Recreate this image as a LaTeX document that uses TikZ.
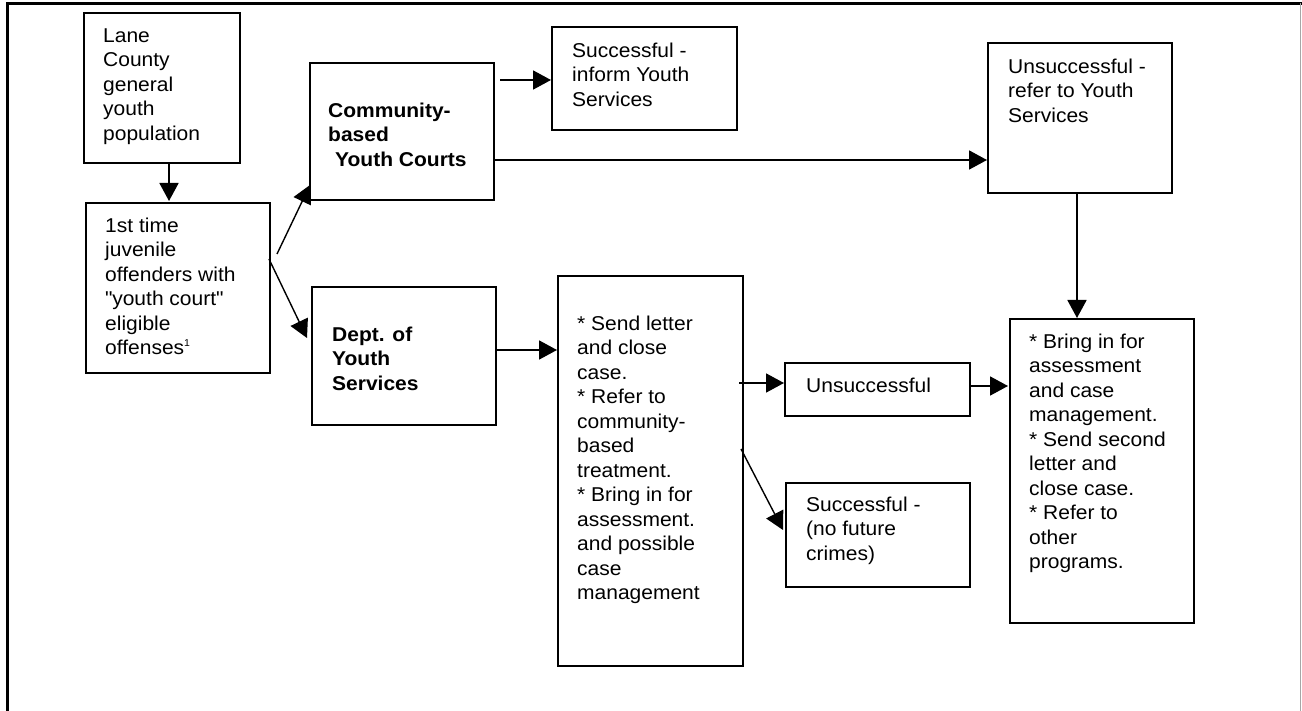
\documentclass[tikz,border=0pt]{standalone}
\usepackage{fontspec}
\setmainfont{Liberation Sans}[FakeStretch=1.05]
\usetikzlibrary{arrows.meta,calc}
\begin{document}
\begin{tikzpicture}[x=1pt,y=-1pt,
  box/.style={draw=black,line width=2pt,rectangle,inner sep=0pt,anchor=north west},
  txt/.style={anchor=north west,inner sep=0pt,align=left,font=\fontsize{20pt}{24.5pt}\selectfont},
  btxt/.style={txt,font=\fontsize{20pt}{24.5pt}\selectfont\bfseries},
  arr/.style={line width=1.8pt,-{Triangle[length=18pt,width=19pt]}},
  darr/.style={line width=1.4pt,-{Triangle[length=18pt,width=19pt]}}]
\useasboundingbox (0,0) rectangle (1302,711);
% frame
\draw[line width=3pt] (7.5,711) -- (7.5,3.5) -- (1302,3.5);
\draw[line width=1.5pt,black!35] (1300.5,3.5) -- (1300.5,711);
% boxes
\node[box,minimum width=156pt,minimum height=150pt] (b1) at (83,12) {};
\node[box,minimum width=184pt,minimum height=170pt] (b2) at (85,202) {};
\node[box,minimum width=184pt,minimum height=137pt] (b3) at (309,62) {};
\node[box,minimum width=185pt,minimum height=103pt] (b4) at (551,26) {};
\node[box,minimum width=184pt,minimum height=150pt] (b5) at (987,42) {};
\node[box,minimum width=184pt,minimum height=138pt] (bd) at (311,286) {};
\node[box,minimum width=185pt,minimum height=390pt] (b6) at (557,275) {};
\node[box,minimum width=185pt,minimum height=53pt] (b8) at (784,362) {};
\node[box,minimum width=184pt,minimum height=104pt] (b9) at (785,482) {};
\node[box,minimum width=184pt,minimum height=304pt] (b7) at (1009,318) {};
% texts
\node[txt] (t1) at (103,26) {\rule{0pt}{16pt}Lane\\County\\general\\youth\\population};
\node[txt] (t2) at (105,216) {\rule{0pt}{16pt}1st time\\juvenile\\offenders with\\\textquotedbl youth court\textquotedbl\\eligible\\offenses\raisebox{8pt}{\fontsize{10pt}{10pt}\selectfont 1}};
\node[btxt] (t3) at (328,101) {\rule{0pt}{16pt}Community-\\based\\\hspace*{7pt}Youth Courts};
\node[txt] (t4) at (572,41) {\rule{0pt}{16pt}Successful -\\inform Youth\\Services};
\node[txt] (t5) at (1008,57) {\rule{0pt}{16pt}Unsuccessful -\\refer to Youth\\Services};
\node[btxt] (td) at (332,325) {\rule{0pt}{16pt}Dept. of\\Youth\\Services};
\node[txt] (t6) at (577,314) {\rule{0pt}{16pt}* Send letter\\and close\\case.\\* Refer to\\community-\\based\\treatment.\\* Bring in for\\assessment.\\and possible\\case\\management};
\node[txt] (t8) at (806,376) {\rule{0pt}{16pt}Unsuccessful};
\node[txt] (t9) at (806,495) {\rule{0pt}{16pt}Successful -\\(no future\\crimes)};
\node[txt] (t7) at (1029,332) {\rule{0pt}{16pt}* Bring in for\\assessment\\and case\\management.\\* Send second\\letter and\\close case.\\* Refer to\\other\\programs.};
% connectors
\draw[arr] ($(b1.south west)+(86,0)$) -- ($(b2.north west)+(84,-1)$);
\draw[darr] ($(b2.north east)+(6,52)$) -- ($(b3.south west)+(1,-16)$);
\draw[darr] ($(b2.north east)+(-2,57)$) -- ($(bd.north west)+(-4,52)$);
\draw[arr] ($(b3.north east)+(5,18)$) -- ($(b4.north west)+(0,54)$);
\draw[arr] ($(b3.north east)+(0,98)$) -- ($(b5.north west)+(0,118)$);
\draw[arr] ($(b5.south west)+(90,0)$) -- ($(b7.north west)+(68,0)$);
\draw[arr] ($(bd.north east)+(0,64)$) -- ($(b6.north west)+(0,75)$);
\draw[arr] ($(b6.north east)+(-5,108)$) -- ($(b8.north west)+(0,21)$);
\draw[arr] ($(b8.north east)+(0,24)$) -- ($(b7.north west)+(-1,68)$);
\draw[darr] ($(b6.north east)+(-3,174)$) -- ($(b9.north west)+(-2,48)$);
\end{tikzpicture}
\end{document}
